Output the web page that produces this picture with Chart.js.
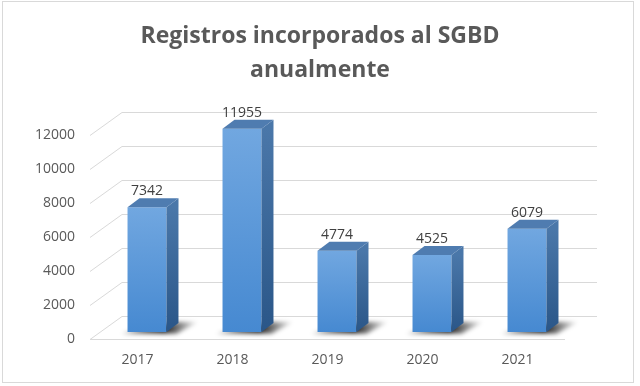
<!DOCTYPE html>
<html>
<head>
<meta charset="utf-8">
<script src="https://cdn.jsdelivr.net/npm/chart.js@4.4.1/dist/chart.umd.min.js"></script>
<style>
html,body{margin:0;padding:0;background:#fff;}
#wrap{width:640px;height:386px;position:relative;}
</style>
</head>
<body>
<div id="wrap"><canvas id="c" width="640" height="386"></canvas></div>
<script>
const titleLines = ['Registros incorporados al SGBD', 'anualmente'];
const categories = ['2017', '2018', '2019', '2020', '2021'];
const values = [7342, 11955, 4774, 4525, 6079];
const yTicks = [0, 2000, 4000, 6000, 8000, 10000, 12000];

// projection offsets (pixels) for the pseudo-3D look
const FRONT = {dx: -9.5, dy: 7};
const BACK = {dx: 22.5, dy: -16};
const BAR_DEPTH = {dx: 12, dy: -9};

const frameAndWalls = {
  id: 'frameAndWalls',
  beforeDraw(chart) {
    const ctx = chart.ctx;
    ctx.save();
    ctx.fillStyle = '#ffffff';
    ctx.fillRect(0, 0, chart.width, chart.height);
    ctx.strokeStyle = '#d9d9d9';
    ctx.lineWidth = 1;
    ctx.strokeRect(2.5, 1.5, 631, 381);
    ctx.restore();
  },
  beforeDatasetsDraw(chart) {
    const ctx = chart.ctx;
    const y = chart.scales.y;
    const a = chart.chartArea;
    ctx.save();
    ctx.strokeStyle = '#d9d9d9';
    ctx.lineWidth = 1;
    y.ticks.forEach(t => {
      const py = Math.round(y.getPixelForValue(t.value));
      ctx.beginPath();
      ctx.moveTo(a.left + FRONT.dx, py + FRONT.dy + 0.5);
      ctx.lineTo(a.left + BACK.dx, py + BACK.dy + 0.5);
      ctx.lineTo(a.right + BACK.dx, py + BACK.dy + 0.5);
      ctx.stroke();
    });
    // front floor edge
    const p0 = Math.round(y.getPixelForValue(0));
    ctx.beginPath();
    ctx.moveTo(a.left + FRONT.dx, p0 + FRONT.dy + 0.5);
    ctx.lineTo(a.right + FRONT.dx, p0 + FRONT.dy + 0.5);
    ctx.stroke();

    // shadows on the floor
    const meta = chart.getDatasetMeta(0);
    meta.data.forEach(bar => {
      const l = bar.x - bar.width / 2, r = bar.x + bar.width / 2, b = bar.base;
      ctx.save();
      ctx.filter = 'blur(2px)';
      const g = ctx.createLinearGradient(l - 6, 0, r + 32, 0);
      g.addColorStop(0, 'rgba(0,0,0,0.4)');
      g.addColorStop(0.55, 'rgba(0,0,0,0.9)');
      g.addColorStop(1, 'rgba(0,0,0,0)');
      ctx.fillStyle = g;
      ctx.beginPath();
      ctx.moveTo(l - 6, b + 1.5);
      ctx.lineTo(r + 10, b + 1.5);
      ctx.lineTo(r + 32, b - 10);
      ctx.lineTo(r + 10, b - 10);
      ctx.closePath();
      ctx.fill();
      ctx.restore();
    });
    ctx.restore();
  },
  afterDatasetsDraw(chart) {
    const ctx = chart.ctx;
    const meta = chart.getDatasetMeta(0);
    ctx.save();
    meta.data.forEach((bar, i) => {
      const l = bar.x - bar.width / 2, r = bar.x + bar.width / 2, t = bar.y, b = bar.base;
      // side face
      const gs = ctx.createLinearGradient(0, t, 0, b);
      gs.addColorStop(0, '#4a77a9');
      gs.addColorStop(1, '#2a5688');
      ctx.fillStyle = gs;
      ctx.beginPath();
      ctx.moveTo(r, t);
      ctx.lineTo(r + BAR_DEPTH.dx, t + BAR_DEPTH.dy);
      ctx.lineTo(r + BAR_DEPTH.dx, b + BAR_DEPTH.dy);
      ctx.lineTo(r, b);
      ctx.closePath();
      ctx.fill();
      // top face
      ctx.fillStyle = '#4f7cb0';
      ctx.beginPath();
      ctx.moveTo(l, t);
      ctx.lineTo(l + BAR_DEPTH.dx, t + BAR_DEPTH.dy);
      ctx.lineTo(r + BAR_DEPTH.dx, t + BAR_DEPTH.dy);
      ctx.lineTo(r, t);
      ctx.closePath();
      ctx.fill();
      // value label
      ctx.fillStyle = '#404040';
      ctx.font = '14px "Open Sans"';
      ctx.textAlign = 'center';
      ctx.textBaseline = 'middle';
      ctx.fillText(String(values[i]), bar.x, t - 16);
    });
    ctx.restore();
  }
};

new Chart(document.getElementById('c'), {
  type: 'bar',
  data: {
    labels: categories,
    datasets: [{
      data: values,
      borderWidth: 0,
      categoryPercentage: 1,
      barPercentage: 0.41,
      backgroundColor: (c) => {
        const chart = c.chart;
        const ys = chart.scales.y;
        if (!ys || !chart.chartArea || c.raw === undefined) return '#5b9bd5';
        const top = ys.getPixelForValue(c.raw);
        const bottom = ys.getPixelForValue(0);
        const g = chart.ctx.createLinearGradient(0, top, 0, bottom);
        g.addColorStop(0, '#71a7e0');
        g.addColorStop(1, '#4689d1');
        return g;
      }
    }]
  },
  options: {
    responsive: false,
    animation: false,
    devicePixelRatio: 1,
    layout: {padding: 0},
    plugins: {
      legend: {display: false},
      tooltip: {enabled: false},
      title: {
        display: true,
        text: titleLines,
        color: '#595959',
        font: {family: '"Open Sans"', size: 23, weight: 'bold', lineHeight: 1.48},
        padding: {top: 19, bottom: 41}
      }
    },
    scales: {
      x: {
        grid: {display: false, drawTicks: false},
        border: {display: false},
        ticks: {
          color: '#595959',
          font: {family: '"Open Sans"', size: 14},
          padding: 20,
          labelOffset: -9.5,
          maxRotation: 0
        },
        afterFit: (s) => { s.height = 54; }
      },
      y: {
        min: 0,
        max: 12000,
        grid: {display: false, drawTicks: false},
        border: {display: false},
        ticks: {
          stepSize: 2000,
          color: '#595959',
          font: {family: '"Open Sans"', size: 14},
          padding: 24.5,
          labelOffset: 7,
          callback: (v) => String(v)
        },
        afterFit: (s) => { s.width = 99.5; }
      },
      spacer: {
        type: 'linear',
        position: 'right',
        grid: {display: false, drawTicks: false},
        border: {display: false},
        ticks: {display: false},
        afterFit: (s) => { s.width = 65.5; }
      }
    }
  },
  plugins: [frameAndWalls]
});
</script>
</body>
</html>
